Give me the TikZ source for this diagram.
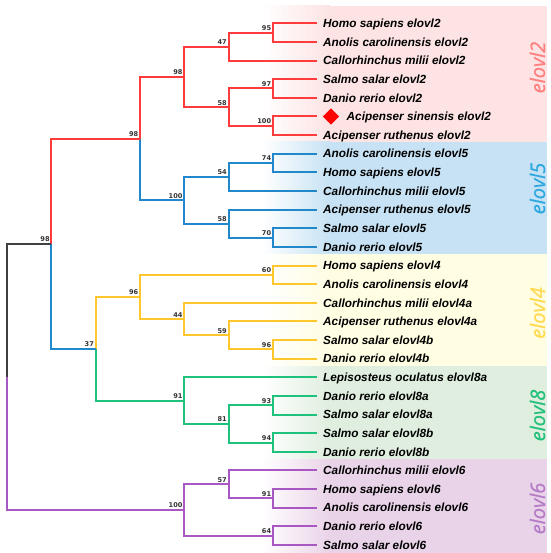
\documentclass[tikz,border=0pt]{standalone}
\usepackage{fontspec}
\setmainfont{Liberation Sans}
\newfontfamily\bsfont{DejaVu Sans}
\newfontfamily\cladefont[FakeBold=0.6]{Open Sans}
\usetikzlibrary{positioning,shapes.geometric}
\definecolor{l2}{HTML}{FF3B3B}
\definecolor{l5}{HTML}{2288CC}
\definecolor{l4}{HTML}{FFC72C}
\definecolor{l8}{HTML}{1FC27C}
\definecolor{l6}{HTML}{A857C3}
\definecolor{b2}{HTML}{FDE3E3}
\definecolor{b5}{HTML}{C6E2F4}
\definecolor{b4}{HTML}{FFFDE2}
\definecolor{b8}{HTML}{DFEEDF}
\definecolor{b6}{HTML}{E9D3E8}
\definecolor{t2}{HTML}{FF7E7E}
\definecolor{t5}{HTML}{2CA7E0}
\definecolor{t4}{HTML}{FFD94E}
\definecolor{t8}{HTML}{23C07B}
\definecolor{t6}{HTML}{B47BC7}

\begin{document}
\begin{tikzpicture}[x=1pt,y=-1pt,
  leaf/.style={anchor=west, inner xsep=6pt, inner ysep=0pt, text height=8.5pt, text depth=0pt, font=\fontsize{11.8}{12}\selectfont\bfseries\itshape},
  bs/.style={anchor=south east, inner xsep=1.5pt, inner ysep=1.8pt, text=black!80, font=\bsfont\fontsize{6.6}{7}\selectfont\bfseries},
  clade/.style={rotate=90, anchor=base, inner sep=0pt, font=\cladefont\fontsize{20}{20}\selectfont\itshape},
  br/.style={line width=2pt}]
  \useasboundingbox (0,0) rectangle (550,553);
  % coloured bands
  \shade[left color=white, right color=b2] (262,6) rectangle (330,142);
  \fill[b2] (330,6) rectangle (547,142);
  \shade[left color=white, right color=b5] (262,142) rectangle (330,254);
  \fill[b5] (330,142) rectangle (547,254);
  \shade[left color=white, right color=b4] (262,254) rectangle (330,366);
  \fill[b4] (330,254) rectangle (547,366);
  \shade[left color=white, right color=b8] (262,366) rectangle (330,459);
  \fill[b8] (330,366) rectangle (547,459);
  \shade[left color=white, right color=b6] (262,459) rectangle (330,553);
  \fill[b6] (330,459) rectangle (547,553);
  \node[clade, text=t2] (lab2) at (545,67.5) {elovl2};
  \node[clade, text=t5] (lab5) at (545,188.5) {elovl5};
  \node[clade, text=t4] (lab4) at (545,313) {elovl4};
  \node[clade, text=t8] (lab8) at (545,415.5) {elovl8};
  \node[clade, text=t6] (lab6) at (545,508.5) {elovl6};

  % leaves
  \node[leaf] (hsa2) at (317,23.3) {Homo sapiens elovl2};
  \node[leaf] (aca2) at (317,41.9) {Anolis carolinensis elovl2};
  \node[leaf] (cmi2) at (317,60.6) {Callorhinchus milii elovl2};
  \node[leaf] (ssa2) at (317,79.2) {Salmo salar elovl2};
  \node[leaf] (dre2) at (317,97.8) {Danio rerio elovl2};
  \node[diamond, fill=red, minimum size=16.6pt, inner sep=0pt] (dia) at (331,116.5) {};
  \node[leaf, right=1pt of dia] (asi2) {Acipenser sinensis elovl2};
  \node[leaf] (aru2) at (317,135.1) {Acipenser ruthenus elovl2};
  \node[leaf] (aca5) at (317,153.7) {Anolis carolinensis elovl5};
  \node[leaf] (hsa5) at (317,172.3) {Homo sapiens elovl5};
  \node[leaf] (cmi5) at (317,191.0) {Callorhinchus milii elovl5};
  \node[leaf] (aru5) at (317,209.6) {Acipenser ruthenus elovl5};
  \node[leaf] (ssa5) at (317,228.2) {Salmo salar elovl5};
  \node[leaf] (dre5) at (317,246.9) {Danio rerio elovl5};
  \node[leaf] (hsa4) at (317,265.5) {Homo sapiens elovl4};
  \node[leaf] (aca4) at (317,284.1) {Anolis carolinensis elovl4};
  \node[leaf] (cmi4a) at (317,302.8) {Callorhinchus milii elovl4a};
  \node[leaf] (aru4a) at (317,321.4) {Acipenser ruthenus elovl4a};
  \node[leaf] (ssa4b) at (317,340.0) {Salmo salar elovl4b};
  \node[leaf] (dre4b) at (317,358.6) {Danio rerio elovl4b};
  \node[leaf] (loc8a) at (317,377.3) {Lepisosteus oculatus elovl8a};
  \node[leaf] (dre8a) at (317,395.9) {Danio rerio elovl8a};
  \node[leaf] (ssa8a) at (317,414.5) {Salmo salar elovl8a};
  \node[leaf] (ssa8b) at (317,433.2) {Salmo salar elovl8b};
  \node[leaf] (dre8b) at (317,451.8) {Danio rerio elovl8b};
  \node[leaf] (cmi6) at (317,470.4) {Callorhinchus milii elovl6};
  \node[leaf] (hsa6) at (317,489.1) {Homo sapiens elovl6};
  \node[leaf] (aca6) at (317,507.7) {Anolis carolinensis elovl6};
  \node[leaf] (dre6) at (317,526.3) {Danio rerio elovl6};
  \node[leaf] (ssa6) at (317,544.9) {Salmo salar elovl6};

  % branch points with bootstrap values
  \path (272.8,32.6) coordinate (n2ha) node[bs] (b2ha) {95};
  \path (228.5,46.6) coordinate (n2a) node[bs] (b2a) {47};
  \path (272.8,88.5) coordinate (n2sd) node[bs] (b2sd) {97};
  \path (272.8,125.8) coordinate (n2ac) node[bs] (b2ac) {100};
  \path (228.5,107.2) coordinate (n2b) node[bs] (b2b) {58};
  \path (184.2,76.9) coordinate (n2) node[bs] (b2) {98};
  \path (272.8,163.0) coordinate (n5ah) node[bs] (b5ah) {74};
  \path (228.5,177.0) coordinate (n5a) node[bs] (b5a) {54};
  \path (272.8,237.6) coordinate (n5sd) node[bs] (b5sd) {70};
  \path (228.5,223.6) coordinate (n5b) node[bs] (b5b) {58};
  \path (184.2,200.3) coordinate (n5) node[bs] (b5) {100};
  \path (139.9,138.6) coordinate (n25) node[bs] (b25) {98};
  \path (272.8,274.8) coordinate (n4ha) node[bs] (b4ha) {60};
  \path (272.8,349.3) coordinate (n4sd) node[bs] (b4sd) {96};
  \path (228.5,335.4) coordinate (n4b) node[bs] (b4b) {59};
  \path (184.2,319.1) coordinate (n4a) node[bs] (b4a) {44};
  \path (139.9,297.0) coordinate (n4) node[bs] (b4) {96};
  \path (272.8,405.2) coordinate (n8ds) node[bs] (b8ds) {93};
  \path (272.8,442.5) coordinate (n8sd) node[bs] (b8sd) {94};
  \path (228.5,423.9) coordinate (n8b) node[bs] (b8b) {81};
  \path (184.2,400.6) coordinate (n8) node[bs] (b8) {91};
  \path (95.6,348.8) coordinate (n48) node[bs] (b48) {37};
  \path (51.3,243.7) coordinate (nup) node[bs] (bup) {98};
  \path (272.8,498.4) coordinate (n6ha) node[bs] (b6ha) {91};
  \path (228.5,484.4) coordinate (n6a) node[bs] (b6a) {57};
  \path (272.8,535.6) coordinate (n6ds) node[bs] (b6ds) {64};
  \path (184.2,510.0) coordinate (n6) node[bs] (b6) {100};
  \coordinate (root) at (7,376.9);

  % branches
  \draw[br, l2] (hsa2.west) -| (n2ha) |- (aca2.west);
  \draw[br, l2] (n2ha) -| (n2a) |- (cmi2.west);
  \draw[br, l2] (ssa2.west) -| (n2sd) |- (dre2.west);
  \draw[br, l2, shorten <=5.7pt] (dia.west) -| (n2ac) |- (aru2.west);
  \draw[br, l2] (n2sd) -| (n2b) |- (n2ac);
  \draw[br, l2] (n2a) -| (n2) |- (n2b);
  \draw[br, l5] (aca5.west) -| (n5ah) |- (hsa5.west);
  \draw[br, l5] (n5ah) -| (n5a) |- (cmi5.west);
  \draw[br, l5] (ssa5.west) -| (n5sd) |- (dre5.west);
  \draw[br, l5] (aru5.west) -| (n5b) |- (n5sd);
  \draw[br, l5] (n5a) -| (n5) |- (n5b);
  \draw[br, l2] (n2) -| (n25);
  \draw[br, l5] (n25) |- (n5);
  \draw[br, l4] (hsa4.west) -| (n4ha) |- (aca4.west);
  \draw[br, l4] (ssa4b.west) -| (n4sd) |- (dre4b.west);
  \draw[br, l4] (aru4a.west) -| (n4b) |- (n4sd);
  \draw[br, l4] (cmi4a.west) -| (n4a) |- (n4b);
  \draw[br, l4] (n4ha) -| (n4) |- (n4a);
  \draw[br, l8] (dre8a.west) -| (n8ds) |- (ssa8a.west);
  \draw[br, l8] (ssa8b.west) -| (n8sd) |- (dre8b.west);
  \draw[br, l8] (n8ds) -| (n8b) |- (n8sd);
  \draw[br, l8] (loc8a.west) -| (n8) |- (n8b);
  \draw[br, l4] (n4) -| (n48);
  \draw[br, l8] (n48) |- (n8);
  \draw[br, l2] (n25) -| (nup);
  \draw[br, l5] (nup) |- (n48);
  \draw[br, l6] (hsa6.west) -| (n6ha) |- (aca6.west);
  \draw[br, l6] (cmi6.west) -| (n6a) |- (n6ha);
  \draw[br, l6] (dre6.west) -| (n6ds) |- (ssa6.west);
  \draw[br, l6] (n6a) -| (n6) |- (n6ds);
  \draw[br, black!75] (nup) -| (root);
  \draw[br, l6] (root) |- (n6);
\end{tikzpicture}
\end{document}
